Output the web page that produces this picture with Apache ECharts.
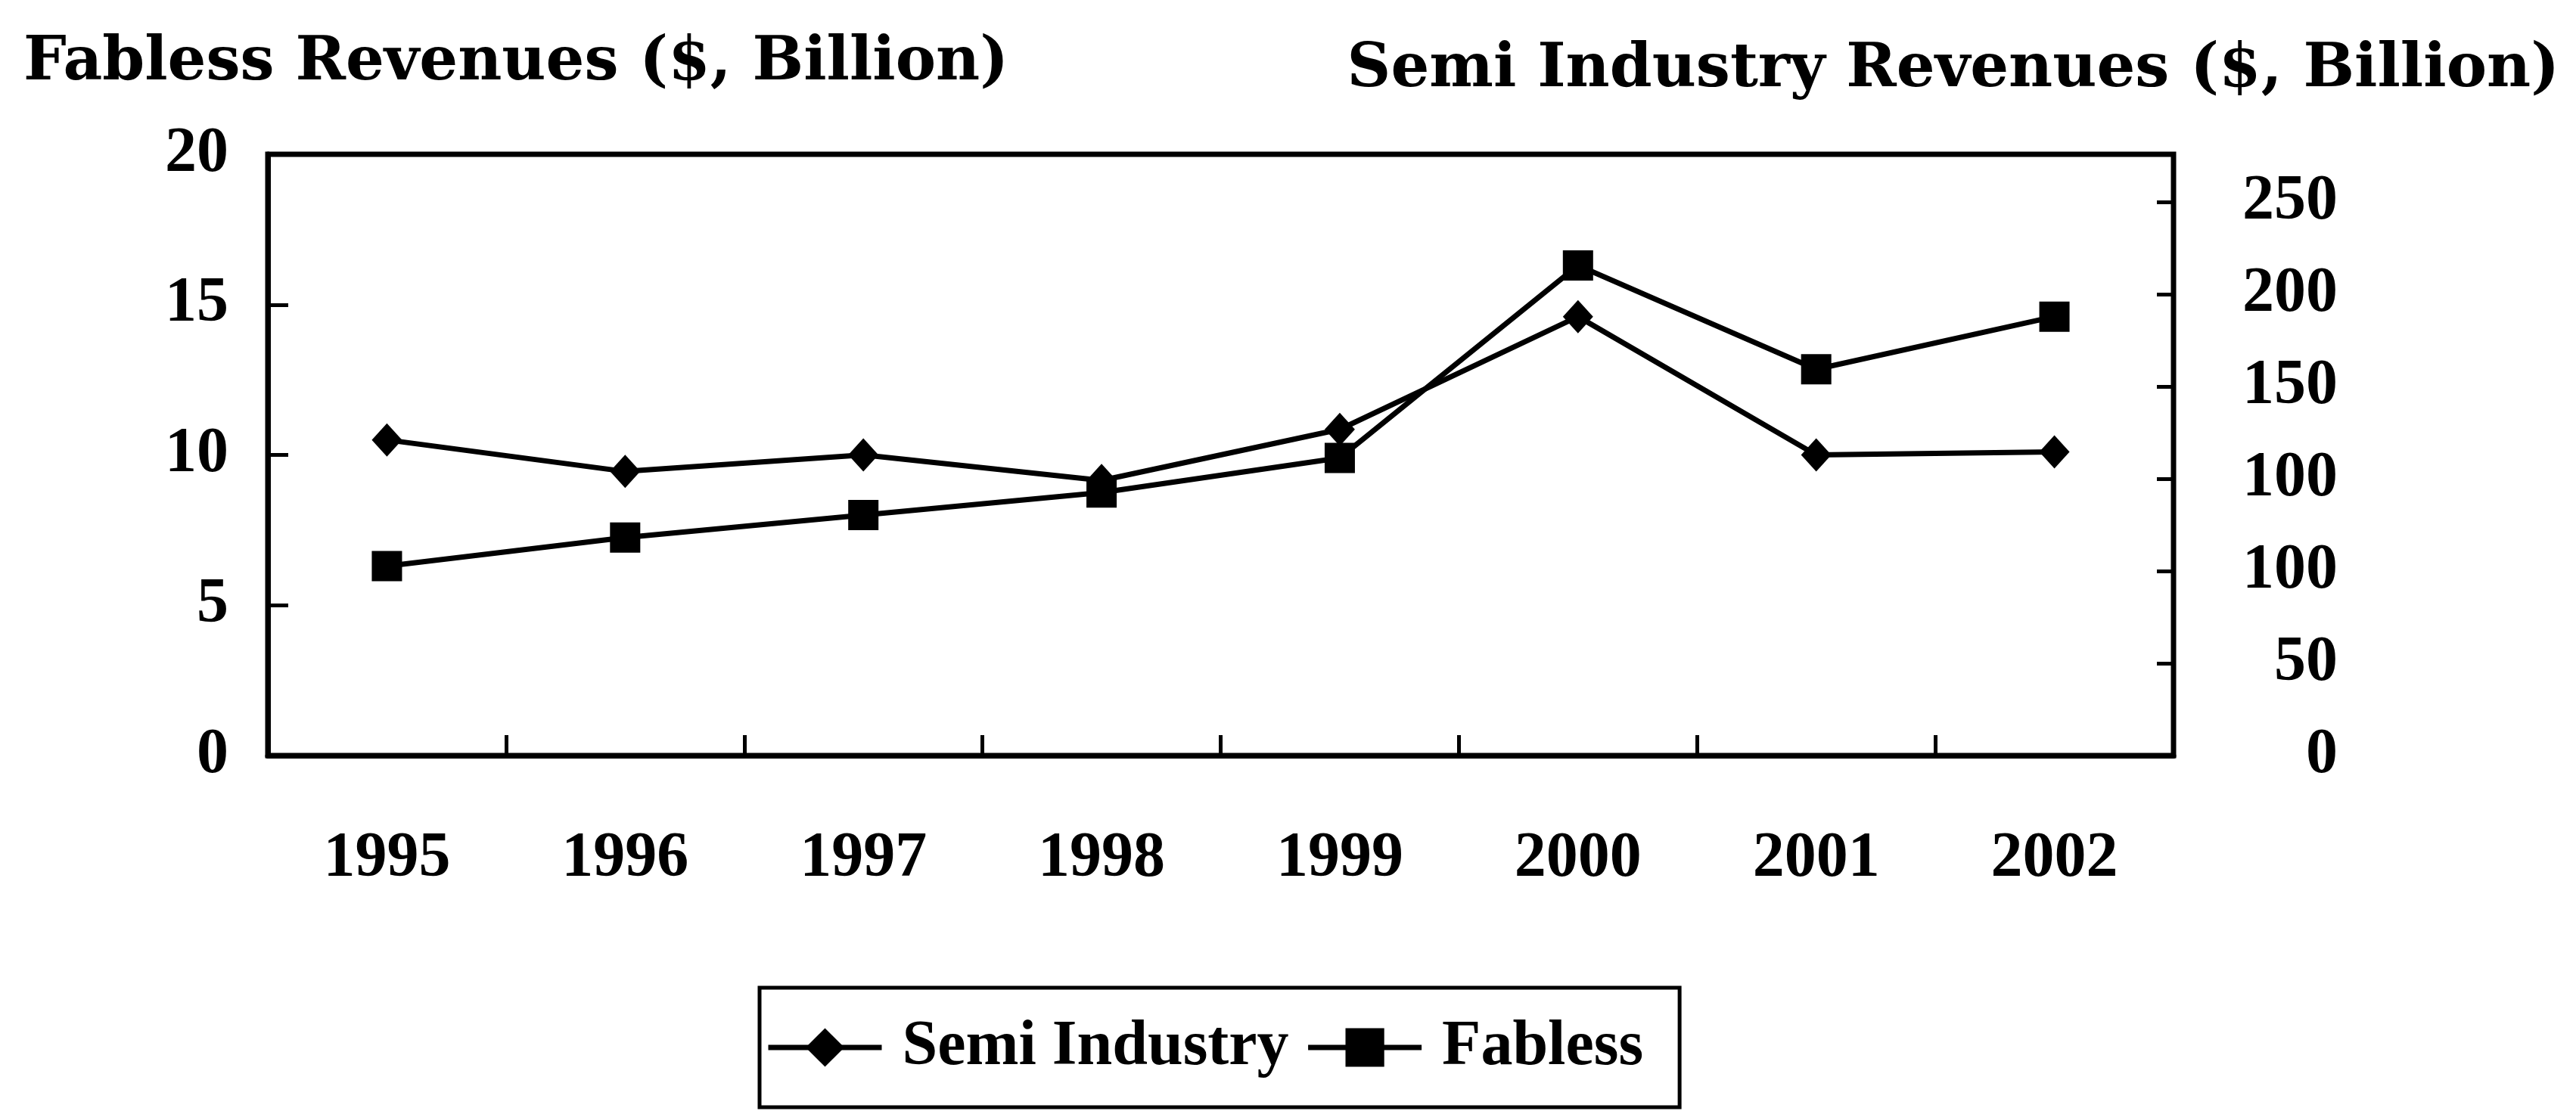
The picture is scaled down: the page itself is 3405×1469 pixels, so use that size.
<!DOCTYPE html>
<html><head><meta charset="utf-8">
<script src="https://cdn.jsdelivr.net/npm/echarts@6/dist/echarts.min.js"></script>
<style>html,body{margin:0;padding:0;background:#fff}#c{width:3405px;height:1469px}</style>
</head><body><div id="c"></div>
<script>
const years = ['1995', '1996', '1997', '1998', '1999', '2000', '2001', '2002'];
const semiIndustry = [10.5, 9.45, 10.0, 9.15, 10.85, 14.6, 10.0, 10.1];
const fabless = [6.3, 7.25, 8.0, 8.75, 9.9, 16.3, 12.85, 14.6];
const leftTitle = 'Fabless Revenues ($, Billion)';
const rightTitle = 'Semi Industry Revenues ($, Billion)';
const leftTicks = [0, 5, 10, 15, 20];
const rightTickLabels = ['0', '50', '100', '100', '150', '200', '250'];

const serif = '"Liberation Serif", "Times New Roman", serif';
const titleFont = '"DejaVu Serif", serif';

const chart = echarts.init(document.getElementById('c'), null, {renderer: 'canvas'});
chart.setOption({
  animation: false,
  backgroundColor: '#fff',
  title: [
    {text: leftTitle, left: 31, top: 44, padding: 0,
     textStyle: {fontFamily: titleFont, fontSize: 80, fontWeight: 'bold', color: '#000', lineHeight: 80}},
    {text: rightTitle, right: 22, top: 53, padding: 0,
     textStyle: {fontFamily: titleFont, fontSize: 80, fontWeight: 'bold', color: '#000', lineHeight: 80}}
  ],
  grid: {left: 354, right: 532, top: 204, bottom: 470, show: true, borderColor: '#000', borderWidth: 7, containLabel: false},
  legend: {
    data: ['Semi Industry', 'Fabless'],
    left: 1004, top: 1306,
    padding: [35, 48, 35, 8],
    itemWidth: 150, itemHeight: 64, itemGap: 22,
    borderColor: '#000', borderWidth: 5,
    lineStyle: {width: 7, color: '#000'},
    textStyle: {fontFamily: serif, fontSize: 84, fontWeight: 'bold', color: '#000', lineHeight: 88, padding: [0, 0, 0, 22]}
  },
  xAxis: {
    type: 'category', data: years, boundaryGap: true,
    axisLine: {show: true, lineStyle: {color: '#000', width: 7}},
    axisTick: {show: true, inside: true, length: 27, lineStyle: {color: '#000', width: 5}},
    axisLabel: {fontFamily: serif, fontSize: 84, fontWeight: 'bold', color: '#000', margin: 95},
    splitLine: {show: false}
  },
  yAxis: [
    {
      type: 'value', min: leftTicks[0], max: leftTicks[leftTicks.length - 1], interval: 5, position: 'left',
      axisLine: {show: true, lineStyle: {color: '#000', width: 7}},
      axisTick: {show: true, inside: true, length: 27, lineStyle: {color: '#000', width: 5}},
      axisLabel: {fontFamily: serif, fontSize: 84, fontWeight: 'bold', color: '#000', margin: 52, padding: [0, 0, 22, 0]},
      splitLine: {show: false}
    },
    {
      type: 'value', min: 0, max: 6.52, interval: 1, position: 'right',
      axisLine: {show: true, lineStyle: {color: '#000', width: 4}},
      axisTick: {show: true, inside: true, length: 22, lineStyle: {color: '#000', width: 5}},
      axisLabel: {
        fontFamily: serif, fontSize: 84, fontWeight: 'bold', color: '#000', margin: 217, align: 'right', padding: [0, 0, 12, 0],
        formatter: function (v) {
          const i = Math.round(v);
          return (Math.abs(v - i) < 1e-6 && rightTickLabels[i] !== undefined) ? rightTickLabels[i] : '';
        }
      },
      splitLine: {show: false}
    }
  ],
  series: [
    {
      name: 'Semi Industry', type: 'line', data: semiIndustry, yAxisIndex: 0,
      symbol: 'diamond', symbolSize: [40, 44], showAllSymbol: true,
      lineStyle: {color: '#000', width: 7}, itemStyle: {color: '#000'}
    },
    {
      name: 'Fabless', type: 'line', data: fabless, yAxisIndex: 0,
      symbol: 'rect', symbolSize: 40, showAllSymbol: true,
      lineStyle: {color: '#000', width: 7}, itemStyle: {color: '#000'}
    }
  ]
});
</script>
</body></html>
